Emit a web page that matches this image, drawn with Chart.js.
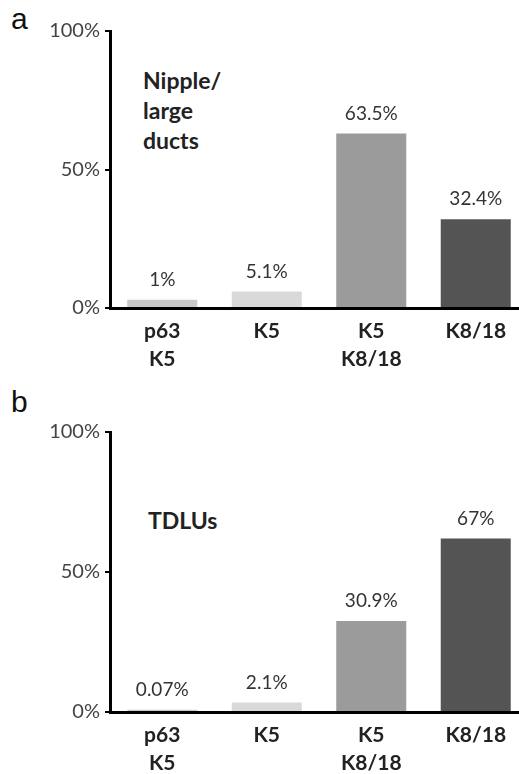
<!DOCTYPE html>
<html>
<head>
<meta charset="utf-8">
<script src="https://cdn.jsdelivr.net/npm/chart.js@4/dist/chart.umd.min.js"></script>
<style>
  body { margin: 0; background: #fff; overflow: hidden; width: 519px; height: 774px; position: relative; }
  .panel { position: absolute; left: 0; width: 528px; }
  .letter { position: absolute; font-family: "Liberation Sans", Arial, sans-serif; font-size: 30px; color: #111; }
  .inner { position: absolute; font-family: Lato, sans-serif; font-weight: bold; font-size: 23px; line-height: 30px; color: #222; }
</style>
</head>
<body>
<div class="letter" style="left:11px; top:2px;">a</div>
<div class="letter" style="left:11px; top:385px;">b</div>
<div class="inner" style="left:143px; top:65px;">Nipple/<br>large<br>ducts</div>
<div class="inner" style="left:148px; top:505px;">TDLUs</div>
<div class="panel" style="top:0; height:380px;"><canvas id="chart_a"></canvas></div>
<div class="panel" style="top:400px; height:374px;"><canvas id="chart_b"></canvas></div>
<script>
const categories = [["p63", "K5"], "K5", ["K5", "K8/18"], "K8/18"];

// bar heights as drawn (% of cells)
const nipple_values = [3, 6, 63, 32];
const nipple_labels = ["1%", "5.1%", "63.5%", "32.4%"];

const tdlu_values = [0.8, 3.4, 32.5, 62];
const tdlu_labels = ["0.07%", "2.1%", "30.9%", "67%"];

const y_ticks = [0, 50, 100];

const bar_colors = ["#c9c9c9", "#d9d9d9", "#9b9b9b", "#545454"];

const valueLabels = {
    id: "valueLabels",
    afterDatasetsDraw(chart, args, opts) {
        const ctx = chart.ctx;
        const meta = chart.getDatasetMeta(0);
        ctx.save();
        ctx.font = "19px Lato, sans-serif";
        ctx.fillStyle = "#333";
        ctx.textAlign = "center";
        ctx.textBaseline = "middle";
        meta.data.forEach((bar, i) => {
            ctx.fillText(opts.labels[i], bar.x, bar.y - 20);
        });
        ctx.restore();
    },
};

function makeConfig(values, labels, top, xHeight) {
    return {
        type: "bar",
        data: {
            labels: categories,
            datasets: [
                {
                    data: values,
                    backgroundColor: bar_colors,
                    borderWidth: 0,
                    barPercentage: 0.67,
                    categoryPercentage: 1,
                },
            ],
        },
        options: {
            responsive: true,
            maintainAspectRatio: false,
            animation: false,
            layout: { padding: { top: top, right: 0, left: 0, bottom: 0 } },
            plugins: {
                legend: { display: false },
                tooltip: { enabled: false },
                valueLabels: { labels },
            },
            scales: {
                x: {
                    grid: { display: false },
                    border: { display: true, color: "#000", width: 3 },
                    ticks: {
                        color: "#222",
                        font: { family: "Lato, sans-serif", size: 21, weight: "bold", lineHeight: 1.3 },
                        padding: 2,
                        maxRotation: 0,
                    },
                    afterFit(scale) { scale.height = xHeight; },
                },
                y: {
                    min: 0,
                    max: 100,
                    afterBuildTicks(scale) { scale.ticks = y_ticks.map(v => ({ value: v })); },
                    grid: { display: true, drawOnChartArea: false, drawTicks: true, tickLength: 5, color: "#000", lineWidth: 2 },
                    border: { display: true, color: "#000", width: 3 },
                    ticks: {
                        color: "#444",
                        font: { family: "Lato, sans-serif", size: 20 },
                        padding: 5,
                        callback: v => v + "%",
                    },
                    afterFit(scale) { scale.width = 110; },
                },
            },
        },
        plugins: [valueLabels],
    };
}

const chart_a = new Chart(
    document.getElementById("chart_a"),
    makeConfig(nipple_values, nipple_labels, 31, 72)
);
const chart_b = new Chart(
    document.getElementById("chart_b"),
    makeConfig(tdlu_values, tdlu_labels, 32, 62)
);
</script>
</body>
</html>
